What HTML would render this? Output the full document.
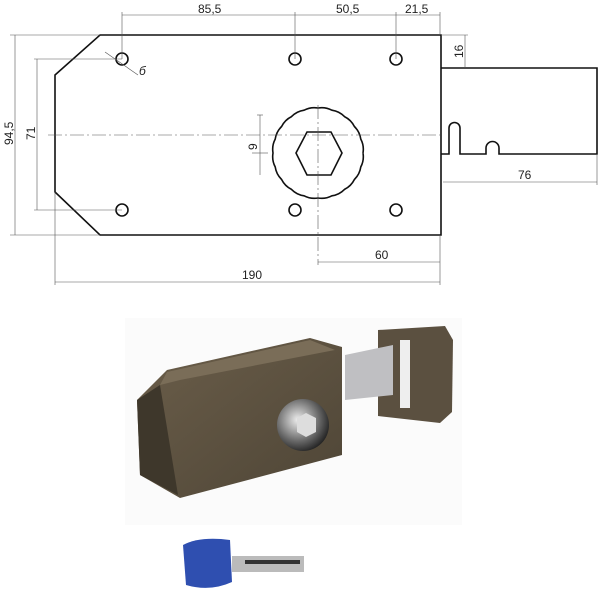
<!DOCTYPE html>
<html><head><style>
html,body{margin:0;padding:0;background:#fff;}
svg{display:block;}
text{font-family:"Liberation Sans",sans-serif;font-size:12px;fill:#222;}
</style></head><body>
<svg width="600" height="600" viewBox="0 0 600 600">
<defs>
<linearGradient id="br" x1="0" y1="0" x2="1" y2="1">
<stop offset="0" stop-color="#6b5e4a"/><stop offset="1" stop-color="#4e4536"/></linearGradient>
<radialGradient id="kn" cx="0.4" cy="0.4" r="0.7"><stop offset="0" stop-color="#eee"/><stop offset="0.6" stop-color="#666"/><stop offset="1" stop-color="#111"/></radialGradient>
</defs>
<g fill="none" stroke="#111" stroke-width="1.6">
<path d="M100,35 H441 V235 H100 L55,192 V75 Z"/>
<path d="M441,68 H597 V154 H499 V148 A6.5,6.5 0 0 0 486,148 V154 H460 V128 A5.5,5.5 0 0 0 449,128 V154 H441"/>
<circle cx="122" cy="59" r="6"/><circle cx="295" cy="59" r="6"/><circle cx="396" cy="59" r="6"/>
<circle cx="122" cy="210" r="6"/><circle cx="295" cy="210" r="6"/><circle cx="396" cy="210" r="6"/>
<path id="gear" d=""/>
<polygon points="307,132 331,132 342,153 331,175 307,175 296,153"/>
</g>
<script>
(function(){var n=20,r=45,cx=318,cy=153,d="";for(var k=0;k<=n;k++){var a=k*2*Math.PI/n;var x=cx+r*Math.cos(a),y=cy+r*Math.sin(a);d+=(k==0?"M":"A22,22 0 0 1 ")+x.toFixed(1)+","+y.toFixed(1)+" ";}document.getElementById("gear").setAttribute("d",d);})();
</script>
<g stroke="#555" stroke-width="0.6" fill="none">
<line x1="48" y1="135" x2="440" y2="135" stroke-dasharray="14 3 2 3"/>
<line x1="318" y1="105" x2="318" y2="265" stroke-dasharray="14 3 2 3"/>
<line x1="122" y1="15" x2="440" y2="15"/>
<line x1="122" y1="12" x2="122" y2="59"/><line x1="295" y1="12" x2="295" y2="59"/><line x1="396" y1="12" x2="396" y2="59"/><line x1="440" y1="12" x2="440" y2="35"/>
<line x1="10" y1="35" x2="100" y2="35"/><line x1="10" y1="235" x2="100" y2="235"/><line x1="15" y1="35" x2="15" y2="235"/>
<line x1="34" y1="59" x2="122" y2="59"/><line x1="34" y1="210" x2="122" y2="210"/><line x1="37" y1="59" x2="37" y2="210"/>
<line x1="441" y1="35" x2="468" y2="35"/><line x1="465" y1="35" x2="465" y2="68"/>
<line x1="257" y1="115" x2="263" y2="115"/><line x1="260" y1="115" x2="260" y2="175"/><line x1="252" y1="153" x2="268" y2="153"/>
<line x1="443" y1="182" x2="597" y2="182"/><line x1="597" y1="154" x2="597" y2="185"/>
<line x1="318" y1="262" x2="440" y2="262"/><line x1="440" y1="235" x2="440" y2="285"/>
<line x1="55" y1="192" x2="55" y2="285"/><line x1="55" y1="282" x2="440" y2="282"/>
<line x1="105" y1="52" x2="138" y2="75"/>
</g>
<text x="198" y="13">85,5</text><text x="336" y="13">50,5</text><text x="405" y="13">21,5</text>
<text x="139" y="75" font-style="italic">б</text>
<text transform="translate(13,145) rotate(-90)">94,5</text>
<text transform="translate(35,140) rotate(-90)">71</text>
<text transform="translate(257,150) rotate(-90)">9</text>
<text transform="translate(463,58) rotate(-90)">16</text>
<text x="518" y="179">76</text><text x="375" y="259">60</text><text x="242" y="279">190</text>
<rect x="125" y="318" width="337" height="207" fill="#fbfbfb"/>
<polygon points="378,330 445,326 453,340 452,412 440,423 378,416" fill="#5b5040"/>
<rect x="400" y="340" width="10" height="68" fill="#eee"/>
<polygon points="345,355 393,345 393,395 345,400" fill="#bfbfc2"/>
<polygon points="137,400 167,370 310,338 342,347 342,455 180,498 140,475" fill="url(#br)"/>
<polygon points="137,400 160,385 178,495 140,475" fill="#3e372b"/>
<polygon points="160,385 167,372 310,340 335,350 180,380" fill="#7a6d58"/>
<circle cx="303" cy="425" r="26" fill="url(#kn)"/>
<polygon points="306,413 316,418 316,432 306,437 297,432 297,418" fill="#ddd"/>
<path d="M183,545 Q200,536 230,540 L232,582 Q210,592 186,585 Z" fill="#2f4fb0"/>
<rect x="232" y="556" width="72" height="16" fill="#bbb"/>
<rect x="245" y="560" width="55" height="4" fill="#333"/>
</svg>
</body></html>
